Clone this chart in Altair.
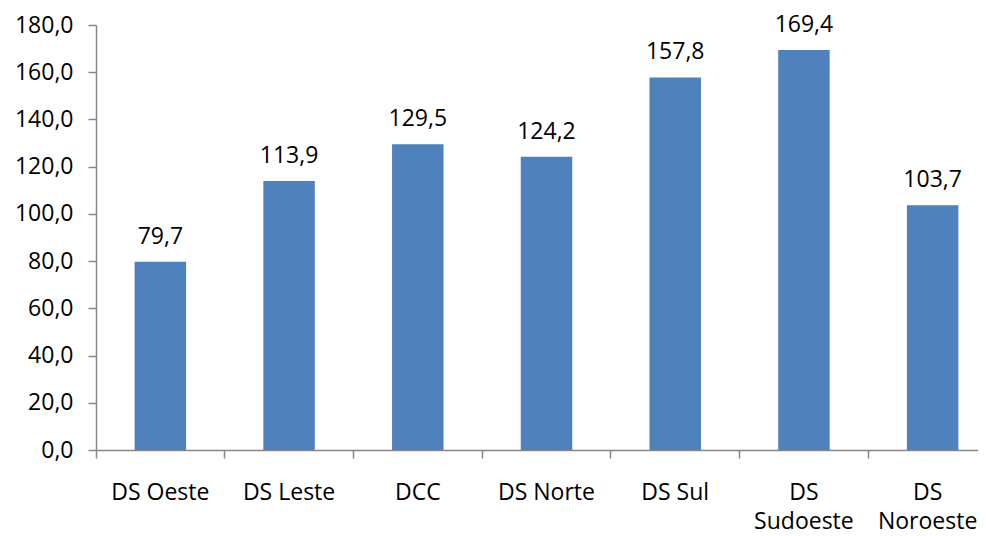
import altair as alt
import pandas as pd

categories = ["DS Oeste", "DS Leste", "DCC", "DS Norte", "DS Sul", "DS Sudoeste", "DS Noroeste"]
values = [79.7, 113.9, 129.5, 124.2, 157.8, 169.4, 103.7]
y_ticks = [0, 20, 40, 60, 80, 100, 120, 140, 160, 180]

df = pd.DataFrame({"cat": categories, "value": values})
df["label"] = [f"{v:.1f}".replace(".", ",") for v in values]

FONT = "Open Sans"
FS = 23
AXIS_COLOR = "#868686"
STEP_RANGE = 901

label_expr = (
    "datum.value == 'DS Sudoeste' ? ['DS', 'Sudoeste'] : "
    "datum.value == 'DS Noroeste' ? ['DS', 'Noroeste'] : datum.value"
)

x = alt.X(
    "cat:N",
    sort=categories,
    scale=alt.Scale(range=[0, STEP_RANGE], paddingInner=0, paddingOuter=0),
    axis=alt.Axis(
        title=None,
        bandPosition=0,
        labelAngle=0,
        labelAlign="center",
        labelBaseline="top",
        labelExpr=label_expr,
        labelFont=FONT,
        labelFontSize=FS,
        labelColor="#000000",
        labelPadding=23,
        labelLineHeight=29,
        labelOffset={"condition": {"test": "datum.value == 'DS Noroeste'", "value": -5}, "value": 0},
        domainColor=AXIS_COLOR,
        tickColor=AXIS_COLOR,
        tickSize=8,
        domainWidth=1.5,
        tickWidth=1.5,
        grid=False,
    ),
)

y = alt.Y(
    "value:Q",
    scale=alt.Scale(domain=[0, 180], nice=False),
    axis=alt.Axis(
        title=None,
        values=y_ticks,
        labelExpr="replace(format(datum.value, '.1f'), '.', ',')",
        labelFont=FONT,
        labelFontSize=FS,
        labelColor="#000000",
        labelPadding=15,
        domainColor=AXIS_COLOR,
        tickColor=AXIS_COLOR,
        tickSize=8,
        domainWidth=1.5,
        tickWidth=1.5,
        grid=False,
    ),
)

bars = alt.Chart(df).mark_bar(
    color="#4F81BD", width=alt.RelativeBandSize(0.4)
).encode(x=x, y=y)

texts = alt.Chart(df).mark_text(
    baseline="alphabetic", dy=-18, font=FONT, fontSize=FS, color="#000000"
).encode(
    x=alt.X("cat:N", sort=categories),
    y=alt.Y("value:Q"),
    text="label:N",
)

chart = (
    alt.layer(bars, texts)
    .properties(
        width=882,
        height=425,
        autosize=alt.AutoSizeParams(type="none"),
        padding={"left": 88, "top": 17, "right": 0, "bottom": 85},
        view=alt.ViewBackground(stroke="transparent", strokeWidth=0),
    )
    .configure_axis(grid=False)
    .configure_view(strokeWidth=0, stroke="transparent")
    .configure(background="white")
)

chart.save("out.html", embed_options={"renderer": "svg", "actions": False})
